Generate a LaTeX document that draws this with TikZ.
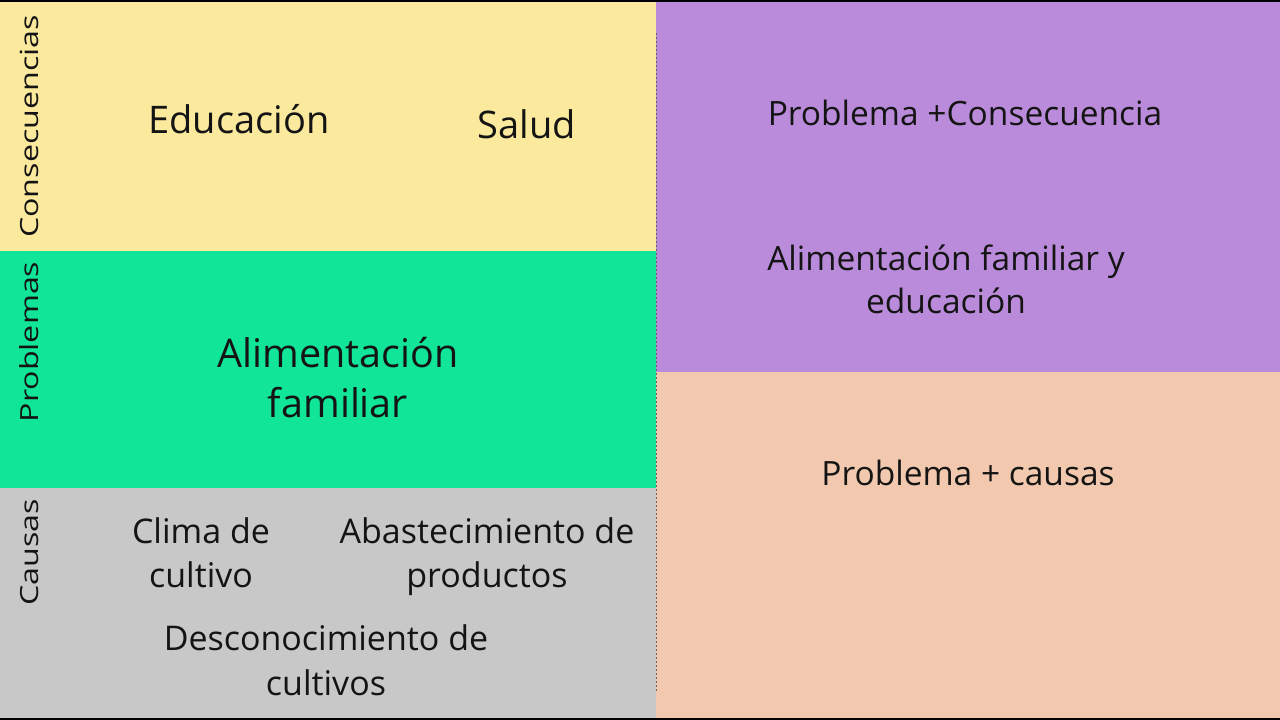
\documentclass[tikz,border=0pt]{standalone}
\usepackage{fontspec}
\setmainfont{Open Sans}
\definecolor{cyellow}{HTML}{FBE99D}
\definecolor{cgreen}{HTML}{11E597}
\definecolor{cgray}{HTML}{C8C8C8}
\definecolor{cpurple}{HTML}{BA8BDA}
\definecolor{cpeach}{HTML}{F2C9AE}
\definecolor{ctext}{HTML}{141414}
\tikzset{
  panel/.style={fill=#1, draw=none},
  big/.style={anchor=base, text=ctext, inner sep=0pt, font=\fontsize{38}{44}\selectfont},
  huge/.style={anchor=base, text=ctext, inner sep=0pt, font=\fontsize{39.5}{46}\selectfont},
  mid/.style={anchor=base, text=ctext, inner sep=0pt, font=\fontsize{34}{40}\selectfont},
  rgt/.style={anchor=base, text=ctext, inner sep=0pt, font=\fontsize{33.5}{40}\selectfont},
  side/.style={anchor=base, rotate=90, text=ctext, inner sep=0pt, font=\fontsize{25}{30}\selectfont},
  divider/.style={draw=gray!80!black, line width=0.8pt, dash pattern=on 2pt off 2pt}
}
\newcommand{\stretchlabel}[1]{\scalebox{1.29}[1]{#1}}
\begin{document}
\begin{tikzpicture}[x=1pt,y=-1pt]
\useasboundingbox (0,0) rectangle (1280,720);
% panels
\fill[panel=cyellow] (0,0) rectangle (656,251);
\fill[panel=cgreen] (0,251) rectangle (656,488);
\fill[panel=cgray] (0,488) rectangle (656,720);
\fill[panel=cpurple] (656,0) rectangle (1280,372);
\fill[panel=cpeach] (656,372) rectangle (1280,720);
% top and bottom black edges
\fill[black] (0,0) rectangle (1280,1.5);
\fill[black] (0,717.5) rectangle (1280,720);
% dotted divider
\coordinate (dtop) at (656,33);
\coordinate (dbot) at (656,692);
\draw[divider] (dtop) -- (dbot);
% side labels
\node[side] (lcons) at (38,126.5) {\stretchlabel{Consecuencias}};
\node[side] (lprob) at (38,342) {\stretchlabel{Problemas}};
\node[side] (lcaus) at (38,552.5) {\stretchlabel{Causas}};
% consequences
\node[big] (edu) at (239,133) {Educación};
\node[big] (sal) at (527,138) {Salud};
% problems
\node[huge] (ali1) at (338,367) {Alimentación};
\node[huge] (ali2) at (338,417) {familiar};
% causes
\node[mid] (cli1) at (201,543) {Clima de};
\node[mid] (cli2) at (201,587) {cultivo};
\node[mid] (aba1) at (487,543) {Abastecimiento de};
\node[mid] (aba2) at (487,587) {productos};
\node[mid] (des1) at (326,650) {Desconocimiento de};
\node[mid] (des2) at (326,695) {cultivos};
% right side
\node[rgt] (pc) at (965,125) {Problema +Consecuencia};
\node[rgt] (afe1) at (946,270) {Alimentación familiar y};
\node[rgt] (afe2) at (946,313) {educación};
\node[rgt] (pca) at (968,485) {Problema + causas};
\end{tikzpicture}
\end{document}
